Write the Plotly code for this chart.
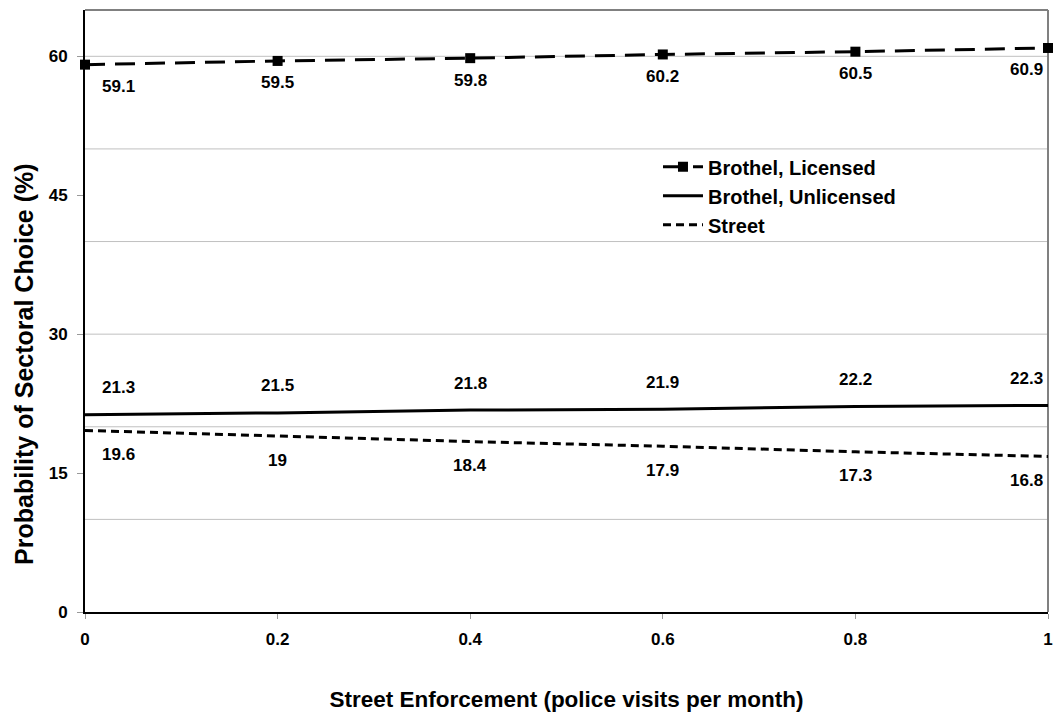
import plotly.graph_objects as go

# Street enforcement levels (police visits per month)
enforcement = [0, 0.2, 0.4, 0.6, 0.8, 1.0]

# Probability of sectoral choice (%)
brothel_licensed = [59.1, 59.5, 59.8, 60.2, 60.5, 60.9]
brothel_unlicensed = [21.3, 21.5, 21.8, 21.9, 22.2, 22.3]
street = [19.6, 19.0, 18.4, 17.9, 17.3, 16.8]

y_ticks = [0, 15, 30, 45, 60]
x_ticks = [0, 0.2, 0.4, 0.6, 0.8, 1]

FONT = "Liberation Sans, Arial, sans-serif"

fig = go.Figure()

fig.add_trace(go.Scatter(
    x=enforcement, y=brothel_licensed, name="<b>Brothel, Licensed</b>",
    mode="lines+markers",
    line=dict(color="black", width=3, dash="20px,10px"),
    marker=dict(symbol="square", size=10, color="black"),
    cliponaxis=False,
))
fig.add_trace(go.Scatter(
    x=enforcement, y=brothel_unlicensed, name="<b>Brothel, Unlicensed</b>",
    mode="lines",
    line=dict(color="black", width=3),
))
fig.add_trace(go.Scatter(
    x=enforcement, y=street, name="<b>Street</b>",
    mode="lines",
    line=dict(color="black", width=3, dash="8px,5px"),
))


def label_series(xs, ys, yshift):
    n = len(xs)
    for i, (xv, yv) in enumerate(zip(xs, ys)):
        xshift = 33 if i == 0 else (-22 if i == n - 1 else 0)
        fig.add_annotation(
            x=xv, y=yv, text=f"<b>{yv:g}</b>", showarrow=False,
            xshift=xshift, yshift=yshift,
            font=dict(family=FONT, size=17, color="black"),
        )


label_series(enforcement, brothel_licensed, -22)
label_series(enforcement, brothel_unlicensed, 27)
label_series(enforcement, street, -24)

# Y-axis title, drawn as a rotated annotation so it can sit below centre
fig.add_annotation(
    xref="paper", yref="paper", x=-0.0634, y=0.412,
    xanchor="center", yanchor="middle", textangle=-90, showarrow=False,
    text="<b>Probability of Sectoral Choice (%)</b>",
    font=dict(family=FONT, size=25, color="black"),
)

fig.update_layout(
    width=1058, height=719,
    margin=dict(l=85, r=5, t=10, b=107),
    paper_bgcolor="white", plot_bgcolor="white",
    font=dict(family=FONT, color="black"),
    showlegend=True,
    legend=dict(
        x=0.595, y=0.772, xanchor="left", yanchor="top",
        bgcolor="rgba(0,0,0,0)",
        font=dict(family=FONT, size=20, color="black"),
        tracegroupgap=0, itemwidth=40,
    ),
    xaxis=dict(
        range=[0, 1], tickvals=x_ticks, ticktext=[f"<b>{v:g}</b>" for v in x_ticks],
        showgrid=False, zeroline=False,
        showline=True, linecolor="black", linewidth=2, mirror=False,
        ticks="outside", ticklen=5, tickcolor="#999999", tickwidth=1,
        ticklabelstandoff=6,
        tickfont=dict(family=FONT, size=17, color="black"),
        title=dict(text="<b>Street Enforcement (police visits per month)</b>",
                   font=dict(family=FONT, size=22.5, color="black"), standoff=43),
    ),
    yaxis=dict(
        range=[0, 65], tickvals=y_ticks, ticktext=[f"<b>{v}</b>" for v in y_ticks],
        showgrid=False, zeroline=False,
        showline=True, linecolor="black", linewidth=2,
        ticks="outside", ticklen=6, tickcolor="#999999", tickwidth=1,
        ticklabelstandoff=6,
        tickfont=dict(family=FONT, size=17, color="black"),
    ),
)

# Light horizontal gridlines every 10 units
for g in range(10, 61, 10):
    fig.add_shape(type="line", xref="paper", x0=0, x1=1, yref="y", y0=g, y1=g,
                  line=dict(color="#c0c0c0", width=1), layer="below")

# Gray top and right frame edges
fig.add_shape(type="line", xref="paper", yref="paper", x0=0, x1=1, y0=1, y1=1,
              line=dict(color="#808080", width=2), layer="below")
fig.add_shape(type="line", xref="paper", yref="paper", x0=1, x1=1, y0=0, y1=1,
              line=dict(color="#808080", width=2), layer="below")

fig.write_html("out.html")
